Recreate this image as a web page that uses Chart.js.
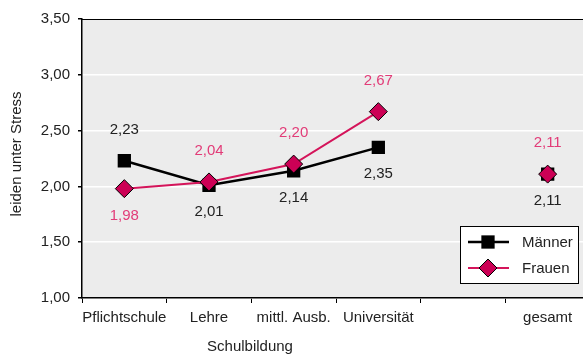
<!DOCTYPE html>
<html>
<head>
<meta charset="utf-8">
<script src="https://cdn.jsdelivr.net/npm/chart.js@4.4.1/dist/chart.umd.min.js"></script>
<style>
  html, body { margin: 0; padding: 0; background: #fff; overflow: hidden; }
  #wrap { width: 600px; height: 358px; }
</style>
</head>
<body>
<div id="wrap"><canvas id="chart" width="600" height="358"></canvas></div>
<script>
// Data
const categories = ['Pflichtschule', 'Lehre', 'mittl. Ausb.', 'Universität', '', 'gesamt'];
const maenner = [2.23, 2.01, 2.14, 2.35, null, 2.11];
const frauen = [1.98, 2.04, 2.20, 2.67, null, 2.11];
const yTicks = [1.0, 1.5, 2.0, 2.5, 3.0, 3.5];

const FONT = 'Liberation Sans, Arial, sans-serif';
const FS = 15;
const fmt = (v) => v.toFixed(2).replace('.', ',');

// label placement per point: -1 above, 1 below
const labelSide = {
  0: [1, -1, -1, -1, 0, -1],   // Frauen
  1: [-1, 1, 1, 1, 0, 1]       // Männer
};

// gray plot background + top border
const backgroundPlugin = {
  id: 'bg',
  beforeDraw(chart) {
    const { ctx, chartArea: a } = chart;
    ctx.save();
    ctx.fillStyle = '#ececec';
    ctx.fillRect(a.left, a.top, a.right - a.left, a.bottom - a.top);
    ctx.restore();
  },
  afterDraw(chart) {
    const { ctx, chartArea: a } = chart;
    ctx.save();
    ctx.strokeStyle = '#000';
    ctx.lineWidth = 1;
    ctx.beginPath();
    ctx.moveTo(a.left, a.top + 0.5);
    ctx.lineTo(a.right, a.top + 0.5);
    ctx.stroke();
    ctx.restore();
  }
};

// value labels next to the points
const valueLabels = {
  id: 'valueLabels',
  afterDatasetsDraw(chart) {
    const ctx = chart.ctx;
    ctx.save();
    ctx.font = FS + 'px ' + FONT;
    ctx.textAlign = 'center';
    ctx.textBaseline = 'middle';
    chart.data.datasets.forEach((ds, i) => {
      const meta = chart.getDatasetMeta(i);
      meta.data.forEach((pt, j) => {
        const v = ds.data[j];
        if (v == null) return;
        const off = labelSide[i][j] < 0 ? -31 : 27;
        ctx.fillStyle = ds.labelColor;
        ctx.fillText(fmt(v), pt.x, pt.y + off);
      });
    });
    ctx.restore();
  }
};

// axis titles and legend box
const extras = {
  id: 'extras',
  afterDraw(chart) {
    const ctx = chart.ctx;
    ctx.save();
    ctx.font = FS + 'px ' + FONT;
    ctx.fillStyle = '#222';
    ctx.textAlign = 'center';
    ctx.textBaseline = 'middle';
    ctx.fillText('Schulbildung', 250, 347);
    ctx.translate(17, 154);
    ctx.rotate(-Math.PI / 2);
    ctx.fillText('leiden unter Stress', 0, 0);
    ctx.restore();

    // legend
    ctx.save();
    ctx.fillStyle = '#fff';
    ctx.fillRect(460, 226, 118, 57);
    ctx.strokeStyle = '#000';
    ctx.lineWidth = 1;
    ctx.strokeRect(460.5, 226.5, 118, 57);
    const items = [chart.data.datasets[1], chart.data.datasets[0]];
    items.forEach((ds, k) => {
      const y = 242 + k * 26;
      ctx.strokeStyle = ds.borderColor;
      ctx.lineWidth = ds.borderWidth;
      ctx.beginPath();
      ctx.moveTo(468, y);
      ctx.lineTo(509, y);
      ctx.stroke();
      ctx.fillStyle = ds.pointBackgroundColor;
      ctx.strokeStyle = ds.pointBorderColor;
      ctx.lineWidth = ds.pointBorderWidth;
      ctx.beginPath();
      if (ds.pointStyle === 'rect') {
        const s = ds.pointRadius * Math.SQRT1_2;
        ctx.rect(488 - s, y - s, 2 * s, 2 * s);
      } else {
        const r = ds.pointRadius;
        ctx.moveTo(488, y - r);
        ctx.lineTo(488 + r, y);
        ctx.lineTo(488, y + r);
        ctx.lineTo(488 - r, y);
        ctx.closePath();
      }
      ctx.fill();
      if (ds.pointBorderWidth) ctx.stroke();
      ctx.fillStyle = '#222';
      ctx.font = FS + 'px ' + FONT;
      ctx.textAlign = 'left';
      ctx.textBaseline = 'middle';
      ctx.fillText(ds.label, 522, y + 1);
    });
    ctx.restore();
  }
};

new Chart(document.getElementById('chart'), {
  type: 'line',
  data: {
    labels: categories,
    datasets: [
      {
        label: 'Frauen',
        data: frauen,
        borderColor: '#d4145a',
        borderWidth: 2,
        pointStyle: 'rectRot',
        pointRadius: 9,
        pointHoverRadius: 9,
        pointBackgroundColor: '#cc0055',
        pointBorderColor: '#000',
        pointBorderWidth: 1,
        labelColor: '#e23c78',
        order: 0
      },
      {
        label: 'Männer',
        data: maenner,
        borderColor: '#000',
        borderWidth: 2.5,
        pointStyle: 'rect',
        pointRadius: 9.4,
        pointHoverRadius: 9.4,
        pointBackgroundColor: '#000',
        pointBorderColor: '#000',
        pointBorderWidth: 0,
        labelColor: '#222',
        order: 1
      }
    ]
  },
  options: {
    responsive: false,
    animation: false,
    spanGaps: false,
    layout: { padding: { left: 0, top: 19, right: 7, bottom: 0 } },
    plugins: {
      legend: { display: false },
      tooltip: { enabled: false }
    },
    scales: {
      x: {
        offset: true,
        afterFit(scale) { scale.height = 60; },
        grid: { offset: true, drawOnChartArea: false, color: '#000', tickColor: '#000', tickLength: 5 },
        border: { color: '#000', width: 1.5 },
        ticks: { color: '#222', font: { family: FONT, size: FS }, padding: 6, maxRotation: 0, autoSkip: false }
      },
      y: {
        min: 1,
        max: 3.5,
        afterFit(scale) { scale.width = 82; },
        afterBuildTicks(scale) { scale.ticks = yTicks.map((v) => ({ value: v })); },
        grid: { color: '#fff', lineWidth: 1.5, tickColor: '#000', tickLength: 4 },
        border: { color: '#000', width: 1.5 },
        ticks: {
          color: '#222',
          font: { family: FONT, size: FS },
          padding: 8,
          callback: (v) => fmt(v)
        }
      }
    }
  },
  plugins: [backgroundPlugin, valueLabels, extras]
});
</script>
</body>
</html>
